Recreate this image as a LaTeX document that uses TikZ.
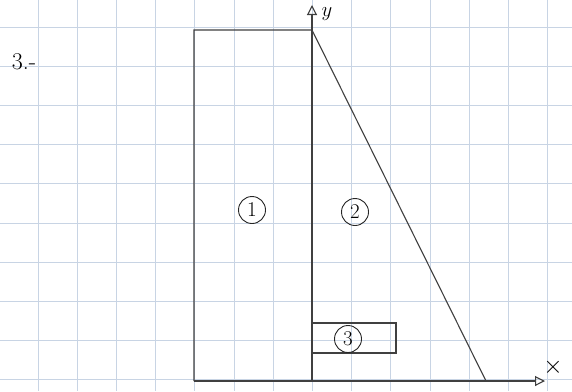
\documentclass[tikz,border=0pt]{standalone}
\usetikzlibrary{arrows.meta}
\definecolor{gridc}{RGB}{200,212,228}
\begin{document}
\begin{tikzpicture}[x=1pt,y=-1pt,
  gridline/.style={draw=gridc,line width=0.8pt},
  pen/.style={draw=black!75,line width=1.1pt},
  circlbl/.style={circle,draw=black!85,line width=0.9pt,inner sep=2.5pt,minimum size=27pt,font=\fontsize{21}{23}\selectfont},
  txt/.style={font=\fontsize{24}{26}\selectfont},
  axlbl/.style={font=\fontsize{20}{22}\selectfont}]
\useasboundingbox (0,0) rectangle (572,391);
\fill[white] (0,0) rectangle (572,391);
% grid paper
\foreach \k in {0,...,13} { \draw[gridline] ({38+39.2*\k},0) -- ({38+39.2*\k},391); }
\foreach \k in {0,...,9} { \draw[gridline] (0,{27+39.2*\k}) -- (572,{27+39.2*\k}); }
% key points
\coordinate (O) at (312,381);
\coordinate (ytop) at (312,5);
\coordinate (xend) at (545,381);
\coordinate (TL) at (194,30);
\coordinate (BL) at (194,381);
\coordinate (T) at (312,30);
\coordinate (B) at (486,381);
% axes
\draw[pen,-{Triangle[open,length=10pt,width=10pt]}] (BL) -- (xend);
\draw[pen,-{Triangle[open,length=10pt,width=10pt]}] (O) -- (ytop);
% shape
\draw[pen] (BL) -- (TL) -- (T) -- (B);
\draw[pen] (312,323) rectangle (396,353);
% labels
\node[axlbl] (ylbl) at (327,14) {$y$};
\node[txt] (xlbl) at (553,367) {$\times$};
\node[txt] (num) at (24,62) {3.-};
\node[circlbl] (c1) at (252,210) {1};
\node[circlbl] (c2) at (355,212) {2};
\node[circlbl] (c3) at (348,339) {3};
\end{tikzpicture}
\end{document}
